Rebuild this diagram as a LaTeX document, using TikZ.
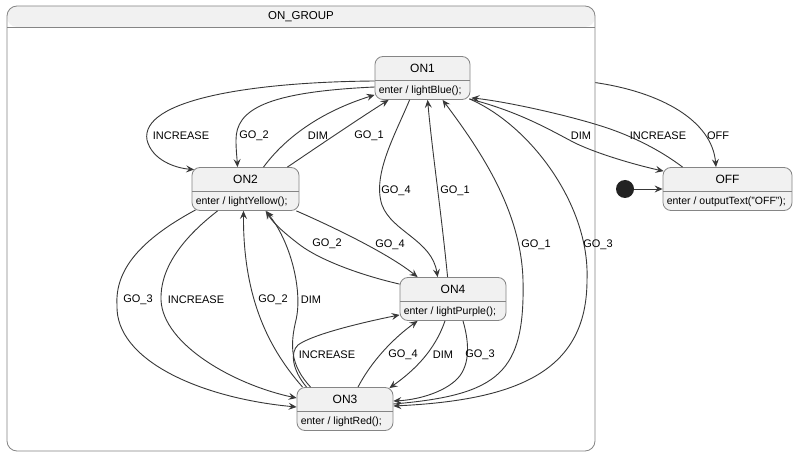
\documentclass[tikz,border=0pt]{standalone}
\usepackage{fontspec}
\setmainfont{Liberation Sans}
\usetikzlibrary{arrows.meta,calc}
\definecolor{sfill}{HTML}{F1F1F1}
\definecolor{sline}{HTML}{858585}
\definecolor{eline}{HTML}{383838}
\definecolor{dotc}{HTML}{222222}
\tikzset{
 statebox/.style={draw=sline, fill=sfill, line width=0.8pt, rounded corners=8pt, minimum height=43pt, inner sep=0pt,
   path picture={\draw[sline, line width=0.8pt] ([yshift=-24pt]path picture bounding box.north west) -- ([yshift=-24pt]path picture bounding box.north east);}},
 sname/.style={font=\fontsize{12}{14}\selectfont, inner sep=0pt},
 sact/.style={font=\fontsize{10.5}{12}\selectfont, inner sep=0pt, anchor=west},
 lbl/.style={font=\fontsize{11}{13}\selectfont, inner sep=0pt},
 edge/.style={draw=eline, line width=0.9pt, -{Stealth[length=8pt,width=7pt,inset=3pt]}},
 groupbox/.style={draw=sline, line width=0.8pt, rounded corners=10pt, inner sep=0pt,
   path picture={\fill[sfill] (path picture bounding box.north west) rectangle ([yshift=-21pt]path picture bounding box.north east);
     \draw[sline, line width=0.8pt] ([yshift=-21pt]path picture bounding box.north west) -- ([yshift=-21pt]path picture bounding box.north east);}},
}
\begin{document}
\begin{tikzpicture}[x=1pt,y=-1pt]
\useasboundingbox[fill=white] (0,0) rectangle (798,457);
% group
\node[groupbox, minimum width=588pt, minimum height=445pt] (grp) at (301,228.5) {};
\node[sname, font=\fontsize{11.5}{13}\selectfont] (grpt) at ($(grp.north)+(0,11)$) {ON\_GROUP};
% states
\node[statebox, minimum width=95pt] (on1) at (422.5,78) {};
\node[sname] (on1n) at ($(on1.north)+(0,12.5)$) {ON1};
\node[sact] (on1a) at ($(on1.north west)+(4,35)$) {enter / lightBlue();};
\node[statebox, minimum width=107pt] (on2) at (245.5,189) {};
\node[sname] (on2n) at ($(on2.north)+(0,12.5)$) {ON2};
\node[sact] (on2a) at ($(on2.north west)+(4,35)$) {enter / lightYellow();};
\node[statebox, minimum width=106pt] (on4) at (453,299) {};
\node[sname] (on4n) at ($(on4.north)+(0,12.5)$) {ON4};
\node[sact] (on4a) at ($(on4.north west)+(4,35)$) {enter / lightPurple();};
\node[statebox, minimum width=96pt] (on3) at (345,409) {};
\node[sname] (on3n) at ($(on3.north)+(0,12.5)$) {ON3};
\node[sact] (on3a) at ($(on3.north west)+(4,35)$) {enter / lightRed();};
\node[statebox, minimum width=129pt] (off) at (727.5,189) {};
\node[sname] (offn) at ($(off.north)+(0,12.5)$) {OFF};
\node[sact] (offa) at ($(off.north west)+(4,35)$) {enter / outputText("OFF");};
\node[circle, fill=dotc, minimum size=18pt, inner sep=0pt] (init) at (625,189) {};
% edges
\draw[edge] (init.east) -- (off.west);
\draw[edge] ($(on1.west)+(0,3)$) .. controls (250,82) and (140,100) .. (147,140) .. controls (152,160) and (175,168) .. ($(on2.north west)+(2.5,2.5)$);
\node[lbl] (l1) at (181,136) {INCREASE};
\draw[edge] ($(on1.west)+(0,9)$) .. controls (265,92) and (236,110) .. (236,140) .. controls (236,150) and (237,158) .. ($(on2.north)+(-8,0)$);
\node[lbl] (l2) at (254,136) {GO\_2};
\draw[edge] ($(on2.north)+(18,0)$) .. controls (285,138) and (320,112) .. ($(on1.south west)+(0,-5)$);
\node[lbl] (l3) at (318,136) {DIM};
\draw[edge] ($(on2.north east)+(-12,0)$) .. controls (320,145) and (360,118) .. ($(on1.south west)+(14,0)$);
\node[lbl] (l4) at (369,136) {GO\_1};
\draw[edge] ($(on1.south west)+(35,0)$) .. controls (395,135) and (372,175) .. (382,205) .. controls (392,232) and (432,240) .. ($(on4.north west)+(38,0)$);
\node[lbl] (l5) at (396,191) {GO\_4};
\draw[edge] ($(on4.north west)+(48,0)$) .. controls (441,210) and (432,150) .. ($(on1.south west)+(53,0)$);
\node[lbl] (l6) at (455,191) {GO\_1};
\draw[edge] ($(on2.south east)+(-3,0)$) .. controls (340,230) and (390,255) .. ($(on4.north west)+(18,0)$);
\node[lbl] (l7) at (390,245) {GO\_4};
\draw[edge] ($(on4.north west)+(0,7)$) .. controls (360,275) and (320,260) .. (300,245) .. controls (283,232) and (272,222) .. ($(on2.south)+(21,0)$);
\node[lbl] (l8) at (327,244) {GO\_2};
\draw[edge] ($(on2.south west)+(4,-1)$) .. controls (140,240) and (115,270) .. (117,305) .. controls (115,360) and (200,398) .. ($(on3.west)+(0,-2)$);
\node[lbl] (l9) at (138,300) {GO\_3};
\draw[edge] ($(on2.south west)+(26,0)$) .. controls (180,240) and (160,270) .. (161,300) .. controls (163,345) and (235,385) .. ($(on3.west)+(0,-11)$);
\node[lbl] (l10) at (196,300) {INCREASE};
\draw[edge] ($(on3.north west)+(6,0)$) .. controls (270,350) and (243,300) .. ($(on2.south)+(-2,0)$);
\node[lbl] (l11) at (273,300) {GO\_2};
\draw[edge] ($(on3.north west)+(14,0)$) .. controls (290,365) and (290,345) .. (296,320) .. controls (303,290) and (290,240) .. ($(on2.south)+(20,0)$);
\node[lbl] (l12) at (311,300) {DIM};
\draw[edge] ($(on3.north west)+(10,0)$) .. controls (292,370) and (290,352) .. (298,345) .. controls (310,336) and (350,325) .. ($(on4.south west)+(0,-6)$);
\node[lbl] (l13) at (327,355) {INCREASE};
\draw[edge] ($(on3.north)+(13,0)$) .. controls (372,360) and (395,337) .. ($(on4.south west)+(18,0)$);
\node[lbl] (l14) at (403,355) {GO\_4};
\draw[edge] ($(on4.south)+(-8,0)$) .. controls (435,350) and (415,370) .. ($(on3.north east)+(-4,1)$);
\node[lbl] (l15) at (443,355) {DIM};
\draw[edge] ($(on4.south)+(10,0)$) .. controls (470,345) and (470,368) .. (455,381) .. controls (440,394) and (415,400) .. ($(on3.east)+(0,-8)$);
\node[lbl] (l16) at (480,355) {GO\_3};
\draw[edge] ($(on3.east)+(0,-5)$) .. controls (500,395) and (525,372) .. (523,280) .. controls (521,210) and (480,150) .. ($(on1.south west)+(68,0)$);
\node[lbl] (l17) at (536,245) {GO\_1};
\draw[edge] ($(on1.south east)+(-1,-1)$) .. controls (530,125) and (590,205) .. (587,280) .. controls (587,370) and (520,400) .. ($(on3.east)+(0,-3)$);
\node[lbl] (l18) at (598,245) {GO\_3};
\draw[edge] ($(on1.south east)+(-1,-1)$) .. controls (520,112) and (550,130) .. (575,143) .. controls (600,155) and (640,166) .. ($(off.north west)+(1,4)$);
\node[lbl] (l19) at (581,136) {DIM};
\draw[edge] ($(off.north west)+(20,0)$) .. controls (660,150) and (635,138) .. (613,130) .. controls (580,118) and (510,102) .. ($(on1.south east)+(1,-2)$);
\node[lbl] (l20) at (658,136) {INCREASE};
\draw[edge] ($(grp.north east)+(0,77)$) .. controls (660,92) and (712,120) .. ($(off.north)+(-11.5,0)$);
\node[lbl] (l21) at (718,136) {OFF};
\end{tikzpicture}
\end{document}
